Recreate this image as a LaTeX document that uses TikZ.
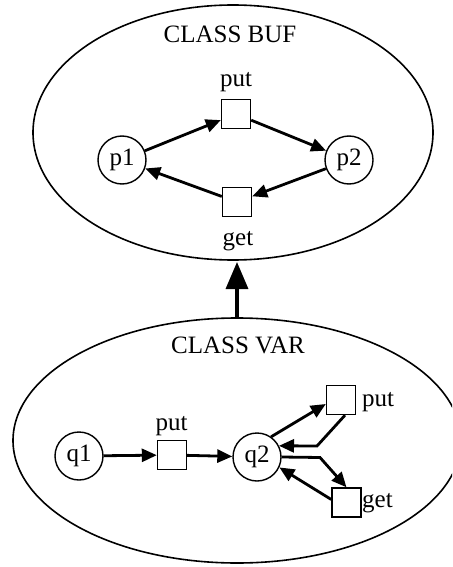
\documentclass[tikz,border=0pt]{standalone}
\usepackage{fontspec}
\setmainfont{Liberation Serif}
\usetikzlibrary{arrows.meta}
\begin{document}
\begin{tikzpicture}[x=1pt,y=-1pt,
  place/.style={circle,draw,line width=1.4pt,minimum size=48pt,inner sep=0pt},
  trans/.style={rectangle,draw,line width=1.4pt,minimum size=29pt,inner sep=0pt},
  class/.style={draw,line width=1.6pt},
  flow/.style={line width=2.8pt,-{Triangle[length=15pt,width=13pt]}},
  lbl/.style={anchor=base,inner sep=0pt},
  font=\fontsize{25}{30}\selectfont]
\useasboundingbox (0,0) rectangle (452,567);

% class BUF
\draw[class] (233,132.5) ellipse [x radius=200, y radius=127.5];
\node[lbl] (bufname) at (230,43) {CLASS BUF};
\node[place] (p1) at (122,160) {p1};
\node[place] (p2) at (349,160) {p2};
\node[trans] (bput) at (236,114) {};
\node[trans] (bget) at (237,202) {};
\node[lbl] (bputl) at (236,87) {put};
\node[lbl] (bgetl) at (238,245) {get};
\draw[flow] (p1) -- (bput);
\draw[flow] (bput) -- (p2);
\draw[flow] (p2) -- (bget);
\draw[flow] (bget) -- (p1);

% class VAR
\begin{scope}
\clip (0,0) rectangle (452,567);
\draw[class] (237,440.5) ellipse [x radius=224, y radius=122.5];
\end{scope}
\node[lbl] (varname) at (238,353) {CLASS VAR};
\node[place] (q1) at (79,456) {q1};
\node[place] (q2) at (257,457) {q2};
\node[trans] (vput) at (172,455) {};
\node[trans] (vput2) at (341,400) {};
\node[trans] (vget) at (346.5,502.5) {};
\node[lbl] (vputl) at (171.5,430) {put};
\node[lbl,anchor=base west] (vput2l) at (362,406) {put};
\node[lbl,anchor=base west] (vgetl) at (362,507) {get};
\coordinate (k1) at (317,446);
\coordinate (k2) at (320,457.5);
\draw[flow] (q1) -- (vput);
\draw[flow] (vput) -- (q2);
\draw[flow] (q2.55) -- ([yshift=-4pt]vput2.west);
\draw[flow] ([xshift=4pt]vput2.south) -- (k1) -- (q2.27);
\draw[flow] (q2.east) -- (k2) -- (vget.north);
\draw[flow] ([yshift=3pt]vget.west) -- (q2.-25);

% inheritance arrow
\coordinate (inhA) at (237,318);
\coordinate (inhB) at (237,262);
\draw[line width=3.5pt,-{Triangle[length=27pt,width=22pt]}] (inhA) -- (inhB);
\end{tikzpicture}
\end{document}
